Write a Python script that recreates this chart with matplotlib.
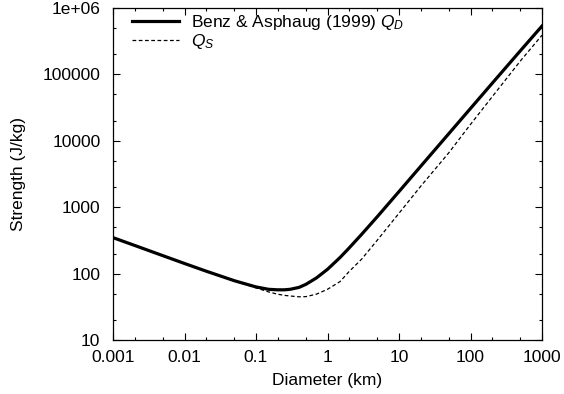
import matplotlib
matplotlib.use('Agg')
import matplotlib.pyplot as plt
from matplotlib.ticker import LogLocator, FixedLocator, FixedFormatter, NullFormatter

plt.rcParams['font.family'] = ['Liberation Sans', 'DejaVu Sans']
plt.rcParams['mathtext.fontset'] = 'custom'
plt.rcParams['mathtext.rm'] = 'Liberation Sans'
plt.rcParams['mathtext.it'] = 'Liberation Sans:italic'

# values
diameter = [0.001, 0.002, 0.005, 0.01, 0.02, 0.05, 0.1, 0.15, 0.2, 0.25, 0.3, 0.4, 0.5, 0.7,
            1, 1.5, 2, 3, 5, 10, 20, 50, 100, 200, 500, 1000]
q_d = [348, 266, 186, 142, 109, 78, 63, 58, 57, 57, 58, 62, 69, 86,
       116, 175, 242, 390, 725, 1720, 4100, 12900, 30700, 73000, 228000, 535000]
q_s = [348, 266, 186, 142, 109, 78, 61, 53, 49, 47, 46, 44.7, 45, 49,
       58, 76, 107, 165, 321, 811, 2050, 6650, 17660, 45700, 160000, 389000]

xticks = [0.001, 0.01, 0.1, 1, 10, 100, 1000]
xlabels = ['0.001', '0.01', '0.1', '1', '10', '100', '1000']
yticks = [10, 100, 1000, 10000, 100000, 1000000]
ylabels = ['10', '100', '1000', '10000', '100000', '1e+06']

fig = plt.figure(figsize=(5.64, 3.94), dpi=100)
ax = fig.add_axes([113/564, 54/394, 429/564, 332/394])

ax.plot(diameter, q_d, color='black', lw=2.3, label='Benz & Asphaug (1999) $Q_D$')
ax.plot(diameter, q_s, color='black', lw=0.9, dashes=(3, 2), label='$Q_S$')

ax.set_xscale('log')
ax.set_yscale('log')
ax.set_xlim(0.001, 1000)
ax.set_ylim(10, 1e6)

ax.xaxis.set_major_locator(FixedLocator(xticks))
ax.xaxis.set_major_formatter(FixedFormatter(xlabels))
ax.yaxis.set_major_locator(FixedLocator(yticks))
ax.yaxis.set_major_formatter(FixedFormatter(ylabels))
ax.xaxis.set_minor_locator(LogLocator(base=10, subs=(2, 5)))
ax.yaxis.set_minor_locator(LogLocator(base=10, subs=(2, 5)))
ax.xaxis.set_minor_formatter(NullFormatter())
ax.yaxis.set_minor_formatter(NullFormatter())

ax.tick_params(which='both', direction='in', top=True, right=True, labelsize=12.5, width=0.8)
ax.tick_params(which='major', length=5)
ax.tick_params(which='minor', length=2.5)
ax.tick_params(axis='x', which='major', pad=7)
ax.tick_params(axis='y', which='major', pad=9)
for s in ax.spines.values():
    s.set_linewidth(0.9)

ax.set_xlabel('Diameter (km)', fontsize=12.5, labelpad=6)
ax.set_ylabel('Strength (J/kg)', fontsize=12.5, labelpad=12)

ax.legend(loc='upper left', bbox_to_anchor=(0.045, 0.985), frameon=False, fontsize=12.5,
          handlelength=2.7, handletextpad=0.7, labelspacing=0.0, borderpad=0, borderaxespad=0)

fig.savefig('out.png', dpi=100)
